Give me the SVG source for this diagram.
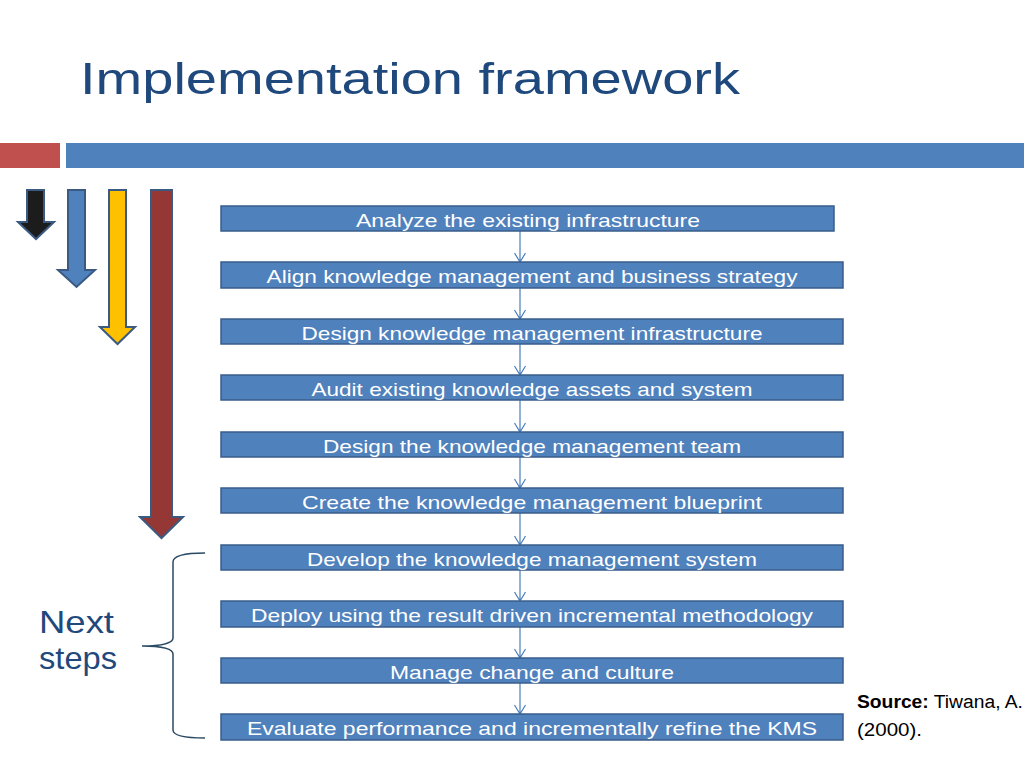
<svg xmlns="http://www.w3.org/2000/svg" width="1024" height="768" viewBox="0 0 1024 768">
<defs>
<style>
.box{fill:#4F81BD;stroke:#385D8A;stroke-width:1.5}
.bt{fill:#FFFFFF;font-family:"Liberation Sans",Arial,sans-serif;font-size:19px;text-anchor:middle}
.con{stroke:#4A7EBB;stroke-width:1.2;fill:none}
.arr{stroke:#3B5A82;stroke-width:2;stroke-linejoin:miter}
.ttl{fill:#1F497D;font-family:"Liberation Sans",Arial,sans-serif}
</style>
</defs>
<rect width="1024" height="768" fill="#FFFFFF"/>
<text class="ttl" x="80" y="94" font-size="45" textLength="660" lengthAdjust="spacingAndGlyphs">Implementation framework</text>
<rect x="0" y="143" width="60" height="25" fill="#C0504D"/>
<rect x="66" y="143" width="958" height="25" fill="#4F81BD"/>
<g id="arrows">
<polygon class="arr" fill="#1C1C1C" points="27,190 44,190 44,222 54,222 36,239 18,222 27,222"/>
<polygon class="arr" fill="#4F81BD" points="68,190 85,190 85,270 95,270 76.5,287 58,270 68,270"/>
<polygon class="arr" fill="#FFC000" points="109,190 126,190 126,327 135,327 117.5,344 100,327 109,327"/>
<polygon class="arr" fill="#953735" points="151,190 172,190 172,517 183,517 161.5,538 140,517 151,517"/>
</g>
<g id="connectors">
<path class="con" d="M520,231 V262 M514.5,253 L520,262 L525.5,253"/>
<path class="con" d="M520,288 V319 M514.5,310 L520,319 L525.5,310"/>
<path class="con" d="M520,344 V375 M514.5,366 L520,375 L525.5,366"/>
<path class="con" d="M520,400 V432 M514.5,423 L520,432 L525.5,423"/>
<path class="con" d="M520,457 V488 M514.5,479 L520,488 L525.5,479"/>
<path class="con" d="M520,513 V545 M514.5,536 L520,545 L525.5,536"/>
<path class="con" d="M520,570 V601 M514.5,592 L520,601 L525.5,592"/>
<path class="con" d="M520,627 V658 M514.5,649 L520,658 L525.5,649"/>
<path class="con" d="M520,683 V714 M514.5,705 L520,714 L525.5,705"/>
</g>
<g id="n1"><rect class="box" x="221" y="206" width="613" height="25"/><text class="bt" x="528" y="227" textLength="344" lengthAdjust="spacingAndGlyphs">Analyze the existing infrastructure</text></g>
<g id="n2"><rect class="box" x="221" y="262" width="622" height="26"/><text class="bt" x="532" y="283" textLength="531" lengthAdjust="spacingAndGlyphs">Align knowledge management and business strategy</text></g>
<g id="n3"><rect class="box" x="221" y="319" width="622" height="25"/><text class="bt" x="532" y="340" textLength="461" lengthAdjust="spacingAndGlyphs">Design knowledge management infrastructure</text></g>
<g id="n4"><rect class="box" x="221" y="375" width="622" height="25"/><text class="bt" x="532" y="396" textLength="441" lengthAdjust="spacingAndGlyphs">Audit existing knowledge assets and system</text></g>
<g id="n5"><rect class="box" x="221" y="432" width="622" height="25"/><text class="bt" x="532" y="453" textLength="418" lengthAdjust="spacingAndGlyphs">Design the knowledge management team</text></g>
<g id="n6"><rect class="box" x="221" y="488" width="622" height="25"/><text class="bt" x="532" y="509" textLength="460" lengthAdjust="spacingAndGlyphs">Create the knowledge management blueprint</text></g>
<g id="n7"><rect class="box" x="221" y="545" width="622" height="25"/><text class="bt" x="532" y="566" textLength="450" lengthAdjust="spacingAndGlyphs">Develop the knowledge management system</text></g>
<g id="n8"><rect class="box" x="221" y="601" width="622" height="26"/><text class="bt" x="532" y="622" textLength="562" lengthAdjust="spacingAndGlyphs">Deploy using the result driven incremental methodology</text></g>
<g id="n9"><rect class="box" x="221" y="658" width="622" height="25"/><text class="bt" x="532" y="679" textLength="284" lengthAdjust="spacingAndGlyphs">Manage change and culture</text></g>
<g id="n10"><rect class="box" x="221" y="714" width="622" height="26"/><text class="bt" x="532" y="735" textLength="570" lengthAdjust="spacingAndGlyphs">Evaluate performance and incrementally refine the KMS</text></g>
<g id="brace">
<path d="M205,553 C186,553 173,555 173,562 L173,638 C173,643 162,646 142,646 C162,646 173,649 173,654 L173,730 C173,736 186,738 205,738" fill="none" stroke="#2B4A63" stroke-width="1.5"/>
</g>
<g id="nextsteps" class="ttl" font-size="32">
<text x="39" y="633" textLength="75" lengthAdjust="spacingAndGlyphs">Next</text>
<text x="39" y="669" textLength="78" lengthAdjust="spacingAndGlyphs">steps</text>
</g>
<g id="source" font-family="'Liberation Sans',Arial,sans-serif" font-size="18" fill="#000000">
<text x="857" y="708" textLength="166" lengthAdjust="spacingAndGlyphs"><tspan font-weight="bold">Source:</tspan> Tiwana, A.</text>
<text x="857" y="736" textLength="65" lengthAdjust="spacingAndGlyphs">(2000).</text>
</g>
</svg>
